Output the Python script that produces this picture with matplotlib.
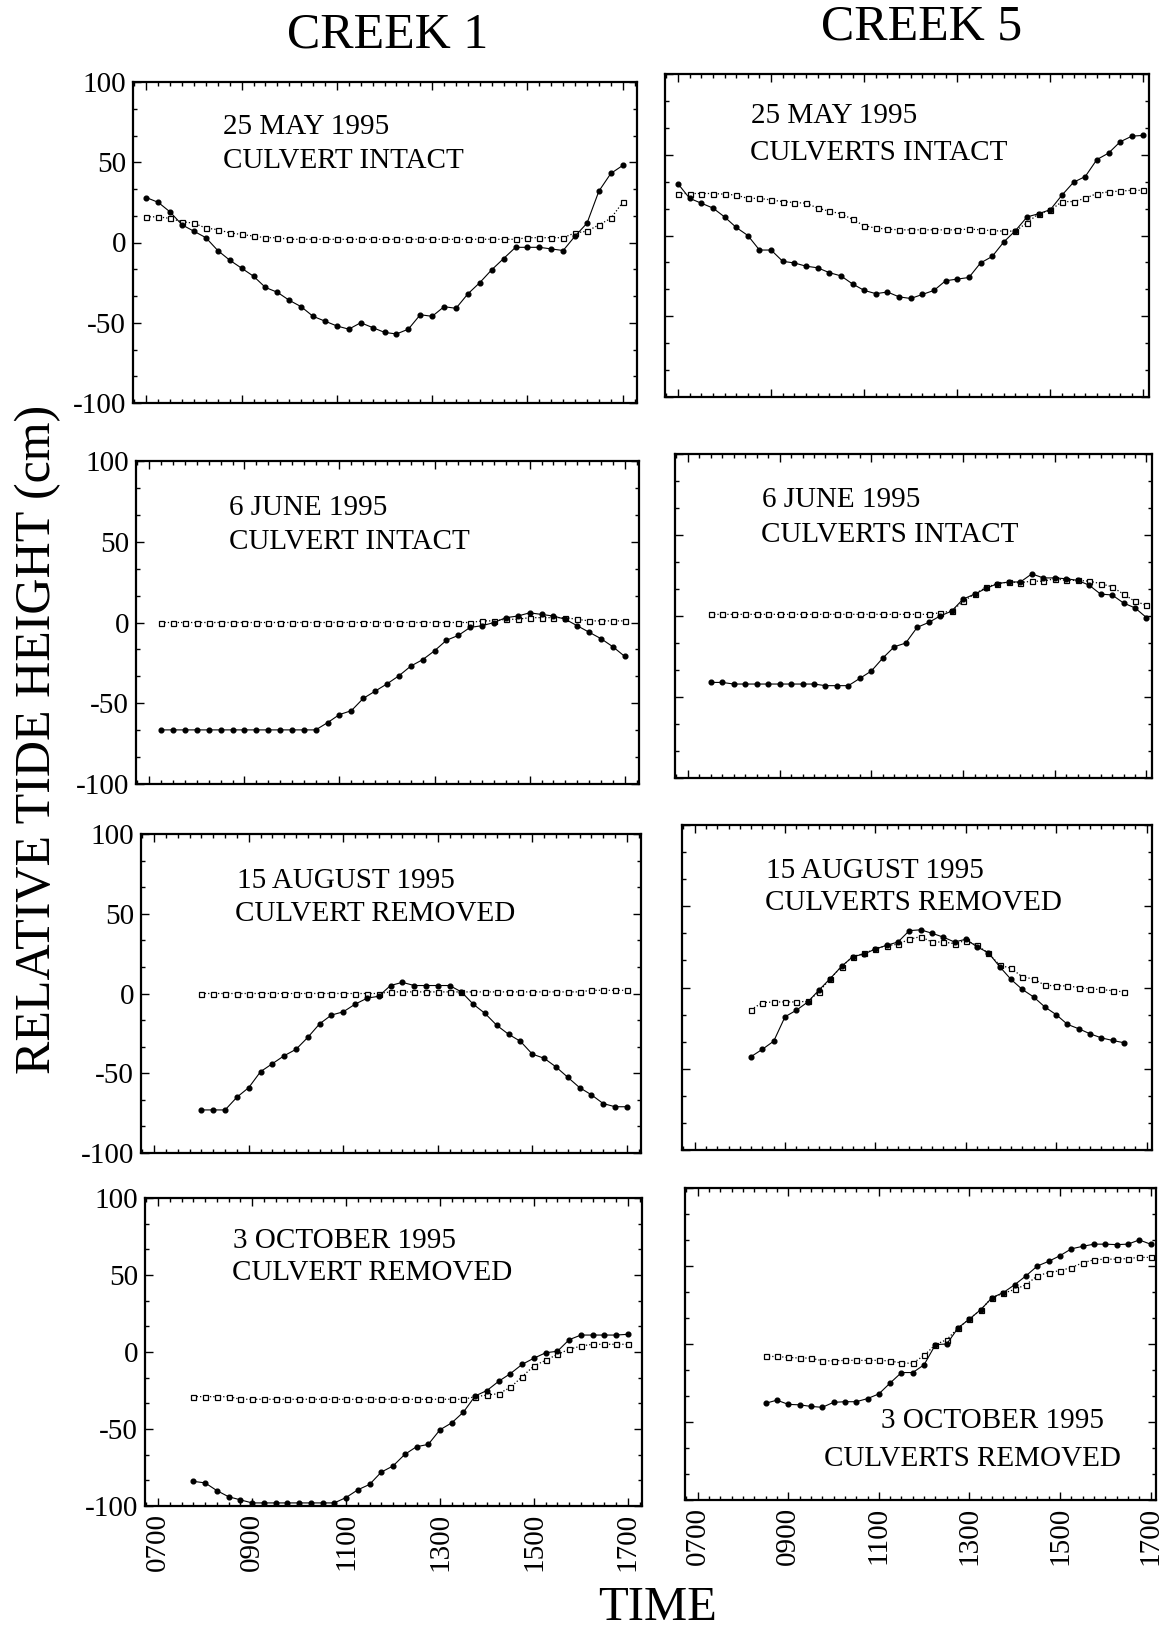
import numpy as np
import matplotlib
matplotlib.use("Agg")
import matplotlib.pyplot as plt
from matplotlib.ticker import MultipleLocator, FixedLocator

plt.rcParams['font.family'] = ['Liberation Serif', 'DejaVu Serif']

W, H = 1173, 1632
STEP = 0.25  # readings every 15 minutes

# ---- data: relative tide height (cm); filled = inside creek, open = reference ----
c1_may_start = 7.0
c1_may_filled = [28, 25, 19, 11, 7, 3, -5, -11, -16, -21, -28, -31, -36, -40, -46, -49,
                 -52, -54, -50, -53, -56, -57, -54, -45, -46, -40, -41, -32, -25, -17,
                 -10, -3, -3, -3, -4, -5, 4, 12, 32, 43, 48]
c1_may_open = [16, 16, 15, 13, 12, 9, 8, 6, 5, 4, 3, 3, 2, 2, 2, 2, 2, 2, 2, 2, 2, 2, 2, 2,
               2, 2, 2, 2, 2, 2, 2, 2, 3, 3, 3, 3, 6, 7, 11, 15, 25]

c5_may_start = 7.0
c5_may_filled = [32, 23, 20, 17, 11.5, 5, 0, -9, -9, -16, -17, -19, -20, -23, -25, -30,
                 -34, -36, -35, -38, -39, -36.5, -34, -28, -27, -26, -17, -13, -4, 3,
                 11.5, 13.5, 16, 25, 33, 36.5, 47, 51, 58, 61.5, 62]
c5_may_open = [26, 26, 26, 26, 25.6, 25, 23, 23, 22, 21, 20.4, 20, 17, 15, 13.5, 10, 6,
               4.6, 4, 3.5, 3.5, 3.5, 3.5, 3.5, 3.5, 4, 3.5, 3, 2.7, 2.7, 8, 13.5, 15.6,
               21, 21, 23, 26, 27, 27.5, 28, 28]

c1_jun_start = 7.25
c1_jun_filled = [-66.5, -66.5, -66.5, -66.5, -66.5, -66.5, -66.5, -66.5, -66.5, -66.5,
                 -66.5, -66.5, -66.5, -66.5, -62, -57, -54.6, -47, -42.5, -38, -33, -27,
                 -23, -17.5, -11, -8, -3, -2, 0, 3, 4, 6, 5, 4, 2, -2, -6, -10, -15, -21]
c1_jun_open = [0, 0, 0, 0, 0, 0, 0, 0, 0, 0, 0, 0, 0, 0, 0, 0, 0, 0, 0, 0, 0, 0, 0, 0, 0,
               0, 0, 1, 1, 2, 2, 3, 3, 3, 3, 2, 1, 1, 1, 1]

c5_jun_start = 7.5
c5_jun_filled = [-41, -41, -42, -42, -42, -42, -42, -42, -42, -42, -43, -43, -43, -38.5,
                 -34, -26, -19, -16.7, -7, -4, 0, 3, 10.4, 13.5, 17, 20, 21, 21, 26, 23.5,
                 23.5, 23, 22, 19, 13.5, 13, 8, 5, -1]
c5_jun_open = [1, 1, 1, 1, 1, 1, 1, 1, 1, 1, 1, 1, 1, 1, 1, 1, 1, 1, 1, 1, 2, 3, 9, 13.5,
               17.7, 20, 21, 20.6, 21.5, 21.5, 23, 22, 22, 21.5, 20, 18, 13.5, 9, 6.7]

c1_aug_start = 8.0
c1_aug_filled = [-73, -73, -73, -65, -59, -49, -44, -39, -35, -27.5, -19, -13.5, -11.5,
                 -6.7, -3, -1.7, 5, 7, 5, 5, 5, 5, 1, -6.7, -12.5, -20, -25.6, -30, -38,
                 -40.6, -46, -52.5, -59, -63.5, -69, -71, -71]
c1_aug_open = [0, 0, 0, 0, 0, 0, 0, 0, 0, 0, 0, 0, 0, 0, 0, 0, 1, 1, 1, 1, 1, 1, 1, 1, 1,
               1, 1, 1, 1, 1, 1, 1, 1, 2, 2, 2, 2]

c5_aug_start = 8.25
c5_aug_filled = [-42.5, -38, -33, -18, -14, -9, -1.6, 5.5, 13, 19, 20.6, 23.7, 26, 28, 35,
                 35.5, 33.4, 31, 28, 29.7, 25, 21.4, 12.8, 5, -1.2, -5.8, -12, -16.7,
                 -22.7, -25.4, -28.5, -31, -32.6, -34]
c5_aug_open = [-13.6, -9.3, -8.9, -8.9, -8.9, -8.5, -2.7, 5.5, 12.8, 19, 21, 23.7, 25.8,
               26.6, 29.7, 31.3, 28, 28, 27, 28.9, 26, 21, 13.8, 11.8, 6.6, 5.2, 1.4, 1,
               1, 0, -1, -1.2, -2, -2.7]

c1_oct_start = 7.75
c1_oct_filled = [-84, -85, -90, -94, -96, -98, -98, -98, -98, -98, -98, -98, -98, -94.5,
                 -89.5, -86, -78, -74, -66.5, -61.5, -60, -50.5, -46, -39, -28.5, -25,
                 -19, -14, -8, -4, -0.5, 0.5, 8, 11, 11, 11, 11, 11.5]
c1_oct_open = [-29, -29, -29, -29, -30.7, -30.7, -30.7, -30.7, -30.7, -30.7, -30.7, -30.7,
               -30.7, -30.7, -30.7, -30.7, -30.7, -30.7, -30.7, -30.7, -30.7, -30.7,
               -30.7, -30.7, -29, -28, -27, -23, -16, -9, -5.4, -1.5, 1.7, 3.9, 5, 5, 5, 5]

c5_oct_start = 8.5
c5_oct_filled = [-38, -36, -38.7, -39, -40, -40.6, -37.4, -37, -37, -35, -32, -25, -18.3,
                 -18.3, -13.3, -0.4, 0, 10.3, 16, 22, 29.7, 33, 38, 43.7, 50, 53, 56.6, 61,
                 62.6, 64, 64, 63.7, 64, 66.7, 64]
c5_oct_open = [-8, -8, -8.6, -9, -9, -10.8, -10.8, -10.5, -10.5, -10.5, -10.5, -10.8, -12.3,
               -12.3, -7.3, -0.4, 2.8, 10.3, 16, 22, 29.7, 32.5, 35, 38, 43.7, 45.8, 47, 49,
               52, 54, 54.4, 54.4, 54.8, 55.5, 55.5]

time_ticks = [7, 9, 11, 13, 15, 17]
time_labels = ['0700', '0900', '1100', '1300', '1500', '1700']
y_ticks = [-100, -50, 0, 50, 100]


def times(start, n):
    return start + STEP * np.arange(n)


def rect(x0, y0, x1, y1):
    return [x0 / W, 1 - y1 / H, (x1 - x0) / W, (y1 - y0) / H]


fig = plt.figure(figsize=(W / 100, H / 100), dpi=100)

# (pixel box, start, filled, open, text lines, text pos, column, bottom row)
panels = [
    ((133, 82, 637, 403), c1_may_start, c1_may_filled, c1_may_open,
     ['25 MAY 1995', 'CULVERT INTACT'], [(223, 127), (223, 161)], 0, False),
    ((665, 74, 1149, 397), c5_may_start, c5_may_filled, c5_may_open,
     ['25 MAY 1995', 'CULVERTS INTACT'], [(751, 116), (750, 153)], 1, False),
    ((136, 461, 639, 784), c1_jun_start, c1_jun_filled, c1_jun_open,
     ['6 JUNE 1995', 'CULVERT INTACT'], [(229, 508), (229, 542)], 0, False),
    ((675, 454, 1152, 778), c5_jun_start, c5_jun_filled, c5_jun_open,
     ['6 JUNE 1995', 'CULVERTS INTACT'], [(762, 500), (761, 535)], 1, False),
    ((141, 834, 641, 1153), c1_aug_start, c1_aug_filled, c1_aug_open,
     ['15 AUGUST 1995', 'CULVERT REMOVED'], [(237, 881), (235, 914)], 0, False),
    ((682, 825, 1152, 1150), c5_aug_start, c5_aug_filled, c5_aug_open,
     ['15 AUGUST 1995', 'CULVERTS REMOVED'], [(766, 871), (765, 903)], 1, False),
    ((145, 1198, 642, 1506), c1_oct_start, c1_oct_filled, c1_oct_open,
     ['3 OCTOBER 1995', 'CULVERT REMOVED'], [(233, 1241), (232, 1273)], 0, True),
    ((685, 1188, 1156, 1500), c5_oct_start, c5_oct_filled, c5_oct_open,
     ['3 OCTOBER 1995', 'CULVERTS REMOVED'], [(881, 1421), (824, 1459)], 1, True),
]

for box, start, filled, opened, lines, pos, col, bottom in panels:
    ax = fig.add_axes(rect(*box))
    ax.plot(times(start, len(opened)), opened, linestyle=':', color='black', lw=0.9,
            marker='s', ms=3.6, mfc='white', mec='black', mew=0.9)
    ax.plot(times(start, len(filled)), filled, linestyle='-', color='black', lw=0.8,
            marker='o', ms=3.4, mfc='black', mec='black')
    ax.set_xlim(6.72, 17.3 if col == 0 else 17.12)
    ax.set_ylim(-100, 100)
    ax.xaxis.set_major_locator(FixedLocator(time_ticks))
    ax.xaxis.set_minor_locator(MultipleLocator(STEP))
    ax.yaxis.set_major_locator(FixedLocator(y_ticks))
    ax.yaxis.set_minor_locator(MultipleLocator(50 / 3))
    ax.tick_params(which='both', direction='in', top=True, right=True, width=1)
    ax.tick_params(which='major', length=6, labelsize=21, pad=5)
    ax.tick_params(which='minor', length=3)
    for sp in ax.spines.values():
        sp.set_linewidth(1.6)
    if bottom:
        ax.set_xticklabels(time_labels, rotation=90, va='top')
    else:
        ax.set_xticklabels([])
    if col == 0:
        ax.set_yticklabels([str(v) for v in y_ticks])
    else:
        ax.set_yticklabels([])
    for s, (tx, ty) in zip(lines, pos):
        fig.text(tx / W, 1 - ty / H, s, fontsize=21, ha='left', va='center')

fig.text(388 / W, 1 - 35 / H, 'CREEK 1', fontsize=36, ha='center', va='center')
fig.text(922 / W, 1 - 27 / H, 'CREEK 5', fontsize=36, ha='center', va='center')
fig.text(658 / W, 1 - 1608 / H, 'TIME', fontsize=35, ha='center', va='center')
fig.text(38 / W, 1 - 739 / H, 'RELATIVE TIDE HEIGHT (cm)', fontsize=36,
         rotation=90, ha='center', va='center')

fig.savefig('out.png', dpi=100, facecolor='white')
